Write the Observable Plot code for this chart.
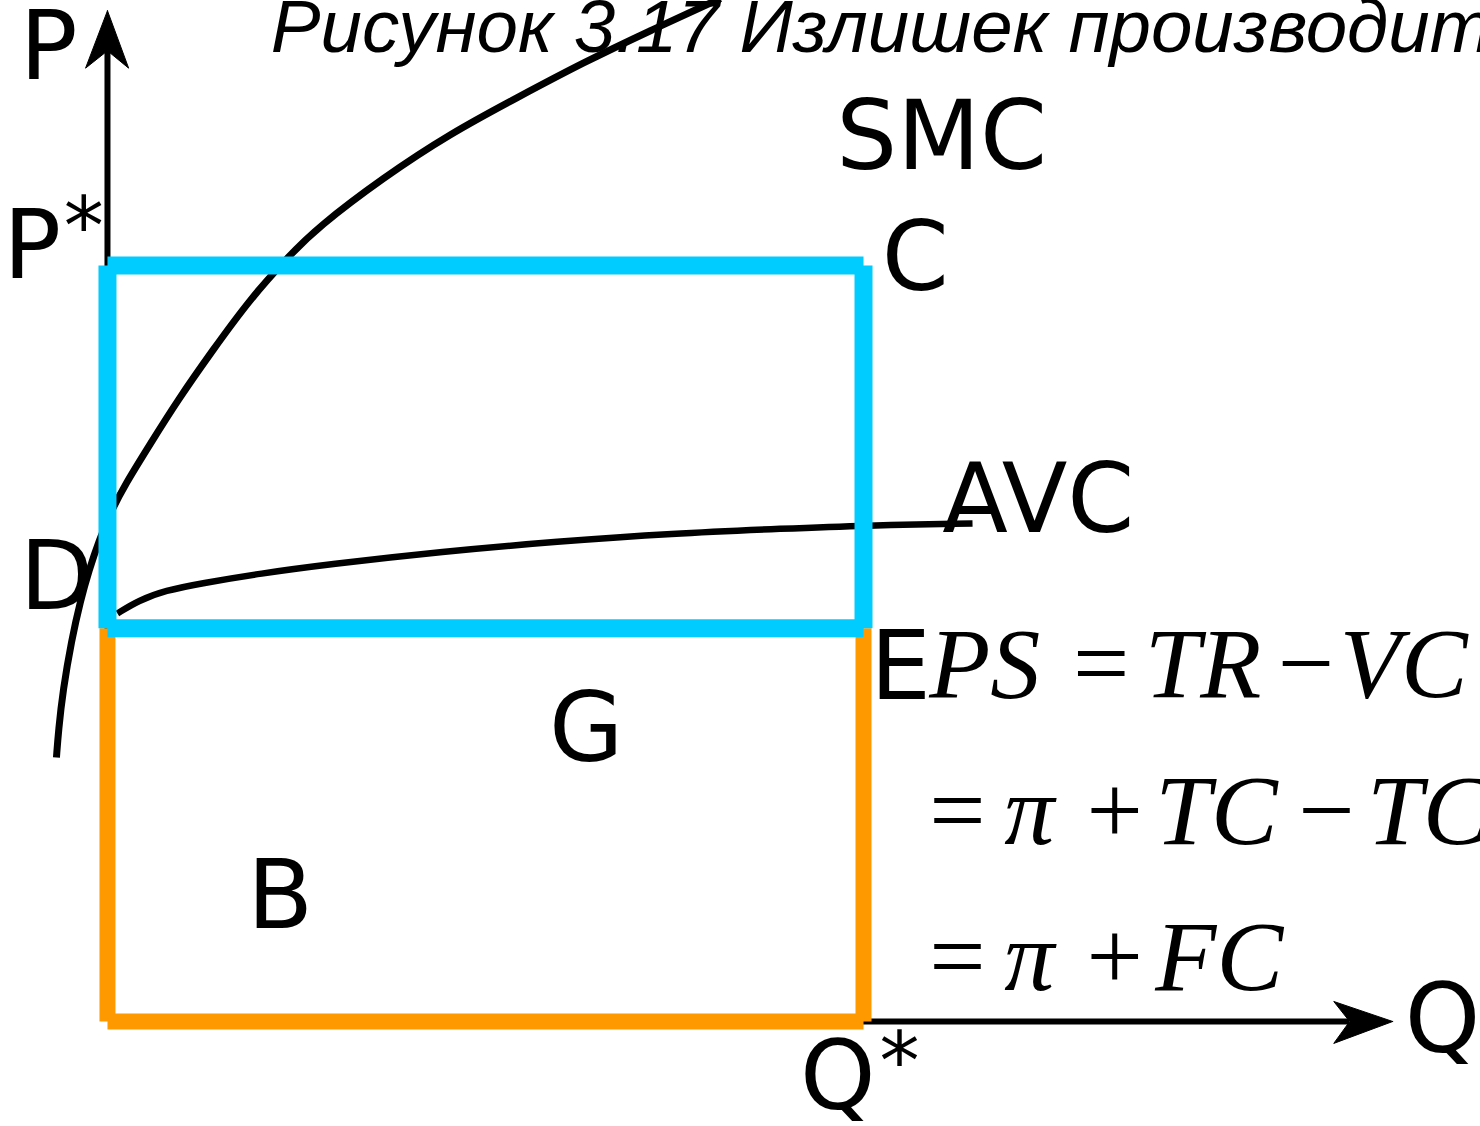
<!DOCTYPE html>
<html>
<head>
<meta charset="utf-8">
<script src="https://cdn.jsdelivr.net/npm/d3@7"></script>
<script src="https://cdn.jsdelivr.net/npm/@observablehq/plot@0.6"></script>
<style>
html, body { margin: 0; padding: 0; background: #ffffff; overflow: hidden; }
#chart svg { display: block; }
</style>
</head>
<body>
<div id="chart"></div>
<script>
// ---- Data (economic units: quantity Q, price P) ----
const Qstar = 10;      // equilibrium quantity Q*
const Pstar = 10;      // market price P*
const Pe = 5.2;        // level of point E / D (minimum AVC)

// SMC curve
const smcQ = [-0.675, -0.648, -0.589, -0.476, -0.357, -0.245, -0.112, 0.053, 0.225, 0.569, 0.926, 1.389, 1.892, 2.381, 2.778, 3.651, 4.537, 5.423, 6.296, 7.183, 8.108];
const smcP = [3.492, 3.849, 4.378, 5.040, 5.569, 5.966, 6.362, 6.759, 7.090, 7.646, 8.214, 8.876, 9.563, 10.106, 10.503, 11.164, 11.746, 12.222, 12.685, 13.108, 13.532];

// AVC curve
const avcQ = [0.132, 0.410, 0.767, 1.230, 2.024, 2.910, 4.431, 5.952, 7.460, 8.981, 9.987, 11.442];
const avcP = [5.397, 5.569, 5.701, 5.794, 5.926, 6.045, 6.217, 6.349, 6.455, 6.521, 6.561, 6.587];

// Axis extents and arrowheads
const pAxisTop = 12.84, qAxisEnd = 16.43;
const pArrowQ = [0, -0.29, 0, 0.28, 0];
const pArrowP = [13.37, 12.61, 12.84, 12.61, 13.37];
const qArrowQ = [17.0, 16.22, 16.43, 16.22, 17.0];
const qArrowP = [0, 0.265, 0, -0.29, 0];

// Rectangle edges (drawn as separate strokes)
const orangeEdges = [
  {q1: 0, p1: Pe, q2: 0, p2: 0},
  {q1: 0, p1: 0, q2: Qstar, p2: 0},
  {q1: Qstar, p1: 0, q2: Qstar, p2: Pe},
  {q1: 0, p1: Pe, q2: Qstar, p2: Pe}
];
const cyanEdges = [
  {q1: 0, p1: Pstar, q2: Qstar, p2: Pstar},
  {q1: Qstar, p1: Pstar, q2: Qstar, p2: Pe},
  {q1: Qstar, p1: Pe, q2: 0, p2: Pe},
  {q1: 0, p1: Pe, q2: 0, p2: Pstar}
];

// Labels
const labelText = ["P", "P", "*", "D", "C", "SMC", "AVC", "E", "G", "B", "Q", "*", "Q"];
const labelQ    = [-1.16, -1.38, -0.58, -1.16, 10.24, 9.64, 11.04, 10.09, 5.84, 1.85, 9.16, 10.21, 17.16];
const labelP    = [12.47, 9.84, 10.15, 5.46, 9.67, 11.27, 6.47, 4.27, 3.44, 1.24, -1.16, -0.89, -0.40];
const labelSize = [96, 96, 80, 96, 96, 96, 96, 96, 96, 96, 96, 80, 96];

// Formula tokens
const formulaText   = ["PS", "=", "TR", "\u2212", "VC",
                       "=", "\u03C0", "+", "TC", "\u2212", "TC",
                       "=", "\u03C0", "+", "FC"];
const formulaQ      = [10.87, 12.77, 13.72, 15.48, 16.30,
                       10.87, 11.86, 12.95, 13.86, 15.75, 16.66,
                       10.87, 11.86, 12.95, 13.86];
const formulaP      = [4.29, 4.29, 4.29, 4.29, 4.29,
                       2.35, 2.35, 2.35, 2.35, 2.35, 2.35,
                       0.41, 0.41, 0.41, 0.41];
const formulaItalic = [true, false, true, false, true,
                       false, true, false, true, false, true,
                       false, true, false, true];

// Title
const titleText = "Рисунок 3.17 Излишек производителя";
const titleQ = 2.16, titleP = 12.82;

// ---- Build tables ----
const smc = smcQ.map((q, i) => ({q, p: smcP[i]}));
const avc = avcQ.map((q, i) => ({q, p: avcP[i]}));
const pArrow = pArrowQ.map((q, i) => ({q, p: pArrowP[i]}));
const qArrow = qArrowQ.map((q, i) => ({q, p: qArrowP[i]}));
const labels = labelText.map((t, i) => ({t, q: labelQ[i], p: labelP[i], s: labelSize[i]}));
const formula = formulaText.map((t, i) => ({t, q: formulaQ[i], p: formulaP[i], it: formulaItalic[i]}));
const labels96 = labels.filter(d => d.s === 96);
const labels80 = labels.filter(d => d.s === 80);

const chart = Plot.plot({
  width: 1480,
  height: 1126,
  margin: 0,
  style: {background: "#ffffff", overflow: "hidden"},
  x: {domain: [-1.415, 18.161], axis: null},
  y: {domain: [-1.389, 13.505], axis: null},
  marks: [
    Plot.line(smc, {x: "q", y: "p", stroke: "black", strokeWidth: 7, curve: "basis", strokeLinecap: "butt"}),
    Plot.line(avc, {x: "q", y: "p", stroke: "black", strokeWidth: 6.5, curve: "basis", strokeLinecap: "butt"}),
    Plot.ruleX([0], {y1: 0, y2: pAxisTop, stroke: "black", strokeWidth: 6}),
    Plot.ruleY([0], {x1: Qstar, x2: qAxisEnd, stroke: "black", strokeWidth: 6}),
    Plot.line(pArrow, {x: "q", y: "p", fill: "black", stroke: "black", strokeWidth: 1}),
    Plot.line(qArrow, {x: "q", y: "p", fill: "black", stroke: "black", strokeWidth: 1}),
    Plot.link(orangeEdges, {x1: "q1", y1: "p1", x2: "q2", y2: "p2", stroke: "#ff9900", strokeWidth: 16, strokeLinecap: "butt"}),
    Plot.link(cyanEdges, {x1: "q1", y1: "p1", x2: "q2", y2: "p2", stroke: "#00ccff", strokeWidth: 18, strokeLinecap: "butt"}),
    Plot.text([titleText], {x: () => titleQ, y: () => titleP, text: d => d, textAnchor: "start", lineAnchor: "bottom",
      fontFamily: "Liberation Sans", fontStyle: "italic", fontSize: 74.5, fill: "black"}),
    Plot.text(labels96, {x: "q", y: "p", text: "t", textAnchor: "start", lineAnchor: "bottom",
      fontFamily: "DejaVu Sans", fontSize: 96, fill: "black"}),
    Plot.text(labels80, {x: "q", y: "p", text: "t", textAnchor: "start", lineAnchor: "bottom",
      fontFamily: "DejaVu Sans", fontSize: 80, fill: "black"}),
    Plot.text(formula.filter(d => d.it), {x: "q", y: "p", text: "t", textAnchor: "start", lineAnchor: "bottom",
      fontFamily: "Liberation Serif", fontStyle: "italic", fontSize: 100, fill: "black"}),
    Plot.text(formula.filter(d => !d.it), {x: "q", y: "p", text: "t", textAnchor: "start", lineAnchor: "bottom",
      fontFamily: "Liberation Serif", fontSize: 100, fill: "black"})
  ]
});
document.getElementById("chart").appendChild(chart);
</script>
</body>
</html>
